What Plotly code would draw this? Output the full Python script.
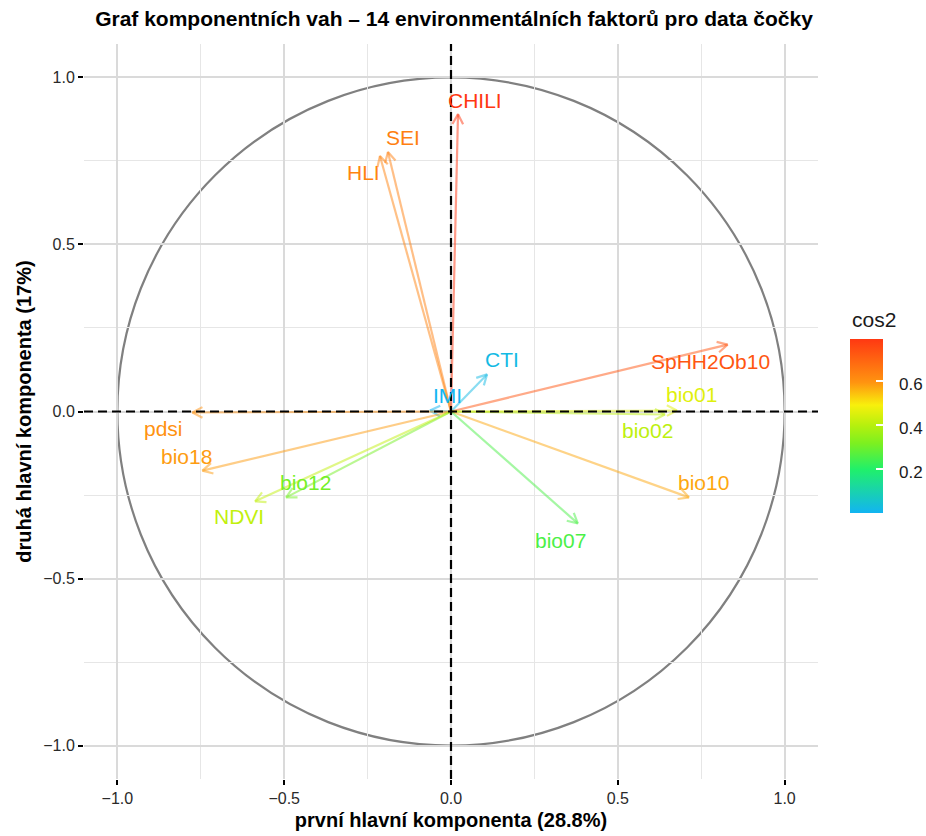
import numpy as np
import plotly.graph_objects as go
from plotly.colors import sample_colorscale

# ---------------- data ----------------
variables = ["CHILI", "SEI", "HLI", "CTI", "IMI", "pdsi", "bio18", "bio12",
             "NDVI", "SpHH2Ob10", "bio01", "bio02", "bio10", "bio07"]
pc1 = [0.021, -0.189, -0.213, 0.108, -0.063, -0.775, -0.745, -0.494,
       -0.587, 0.829, 0.677, 0.641, 0.713, 0.380]
pc2 = [0.890, 0.777, 0.765, 0.111, 0.003, -0.003, -0.177, -0.257,
       -0.269, 0.200, 0.003, -0.009, -0.257, -0.335]
# label anchor positions (data units)
label_x = [0.072, -0.144, -0.263, 0.153, -0.012, -0.862, -0.793, -0.437,
           -0.635, 0.778, 0.722, 0.590, 0.757, 0.329]
label_y = [0.930, 0.819, 0.714, 0.155, 0.048, -0.051, -0.135, -0.212,
           -0.314, 0.149, 0.051, -0.057, -0.212, -0.386]
x_ticks = [-1.0, -0.5, 0.0, 0.5, 1.0]
y_ticks = [-1.0, -0.5, 0.0, 0.5, 1.0]
cb_ticks = [0.2, 0.4, 0.6]

title = "Graf komponentních vah – 14 environmentálních faktorů pro data čočky"
x_title = "první hlavní komponenta (28.8%)"
y_title = "druhá hlavní komponenta (17%)"

# ---------------- styles ----------------
colorscale = [
    [0.00, "#12B4F2"],
    [0.25, "#20F06A"],
    [0.40, "#7CF020"],
    [0.50, "#B4F00E"],
    [0.62, "#F8F00C"],
    [0.75, "#FF9410"],
    [1.00, "#FF3812"],
]
FONT = "Liberation Sans, Arial, sans-serif"
W, H = 926, 836
ML, MR, MT, MB = 84, 108, 44, 57
PLOT_W, PLOT_H = W - ML - MR, H - MT - MB
CB_LEFT, CB_TOP, CB_LEN, CB_THICK = 850, 342, 174, 33

cos2 = [a * a + b * b for a, b in zip(pc1, pc2)]
cmin, cmax = min(cos2), max(cos2)
cols = sample_colorscale(colorscale, [(c - cmin) / (cmax - cmin) for c in cos2])


def rgba(col, a):
    r, g, b = [int(float(v)) for v in col[col.index("(") + 1:-1].split(",")]
    return f"rgba({r},{g},{b},{a})"


def px_to_paper_y(py):
    return (H - MB - py) / PLOT_H


def px_to_paper_x(px):
    return (px - ML) / PLOT_W


fig = go.Figure()

# arrows
head_len = 0.034
head_ang = np.deg2rad(28)
for name, x, y, col in zip(variables, pc1, pc2, cols):
    ang = np.arctan2(y, x)
    h1x = x - head_len * np.cos(ang - head_ang)
    h1y = y - head_len * np.sin(ang - head_ang)
    h2x = x - head_len * np.cos(ang + head_ang)
    h2y = y - head_len * np.sin(ang + head_ang)
    fig.add_trace(go.Scatter(
        x=[0, x, None, h1x, x, h2x],
        y=[0, y, None, h1y, y, h2y],
        mode="lines",
        line=dict(color=rgba(col, 0.5), width=2.2),
        hoverinfo="skip", showlegend=False,
    ))

# colorbar carrier
fig.add_trace(go.Scatter(
    x=pc1, y=pc2, mode="markers",
    marker=dict(size=1, opacity=0, color=cos2, colorscale=colorscale,
                cmin=cmin, cmax=cmax, showscale=True,
                colorbar=dict(
                    xref="container", yref="container",
                    x=CB_LEFT / W, xanchor="left",
                    y=1 - (CB_TOP + CB_LEN / 2) / H - 55 / H, yanchor="middle",
                    len=CB_LEN, lenmode="pixels", thickness=CB_THICK,
                    xpad=0, ypad=0, outlinewidth=0,
                    tickvals=cb_ticks, showticklabels=False,
                    ticks="inside", ticklen=7, tickcolor="white", tickwidth=1.5,
                )),
    hoverinfo="skip", showlegend=False,
))

# colorbar tick labels
for v in cb_ticks:
    py = CB_TOP + CB_LEN - (v - cmin) / (cmax - cmin) * CB_LEN
    fig.add_annotation(xref="paper", yref="paper",
                       x=px_to_paper_x(CB_LEFT + CB_THICK + 14), y=px_to_paper_y(py),
                       xanchor="left", yanchor="middle", text=f"{v:.1f}", showarrow=False,
                       font=dict(family=FONT, size=17, color="#1a1a1a"))

# labels
for name, lx, ly, col in zip(variables, label_x, label_y, cols):
    fig.add_annotation(x=lx, y=ly, text=name, showarrow=False,
                       xanchor="center", yanchor="middle",
                       font=dict(family=FONT, size=21, color=col))

# legend title
fig.add_annotation(xref="paper", yref="paper", x=px_to_paper_x(CB_LEFT), y=px_to_paper_y(320),
                   xanchor="left", yanchor="middle", text="cos2", showarrow=False,
                   font=dict(family=FONT, size=21, color="#1a1a1a"))

shapes = [
    dict(type="circle", xref="x", yref="y", x0=-1, y0=-1, x1=1, y1=1,
         line=dict(color="#808080", width=2.2), layer="below"),
    dict(type="line", xref="x", yref="paper", x0=0, x1=0, y0=0, y1=1,
         line=dict(color="black", width=2.2, dash="9px,5px"), layer="above"),
    dict(type="line", xref="paper", yref="y", x0=0, x1=1, y0=0, y1=0,
         line=dict(color="black", width=2.2, dash="9px,5px"), layer="above"),
]

axis_common = dict(
    showgrid=True, gridcolor="#DADADA", gridwidth=2.4,
    zeroline=False, showline=False,
    ticks="outside", ticklen=5, tickwidth=2, tickcolor="black",
    tickformat=".1f",
    tickfont=dict(family=FONT, size=16, color="#2a2a2a"),
    minor=dict(dtick=0.25, tick0=0, showgrid=True, gridcolor="#E6E6E6", gridwidth=1.2),
)

fig.update_layout(
    width=W, height=H,
    margin=dict(l=ML, r=MR, t=MT, b=MB),
    paper_bgcolor="white", plot_bgcolor="white",
    shapes=shapes,
    title=dict(text=title, x=454 / W, xanchor="center", xref="container",
               y=1 - 19 / H, yanchor="middle", yref="container",
               font=dict(family=FONT, size=21, color="black", weight="bold")),
    xaxis=dict(range=[-1.1, 1.1], tickvals=x_ticks, automargin=False,
               title=dict(text=x_title, standoff=6,
                          font=dict(family=FONT, size=20, color="black", weight="bold")),
               **axis_common),
    yaxis=dict(range=[-1.1, 1.1], tickvals=y_ticks, automargin=False,
               title=dict(text=y_title, standoff=6,
                          font=dict(family=FONT, size=20, color="black", weight="bold")),
               **axis_common),
)

fig.write_html("out.html")
